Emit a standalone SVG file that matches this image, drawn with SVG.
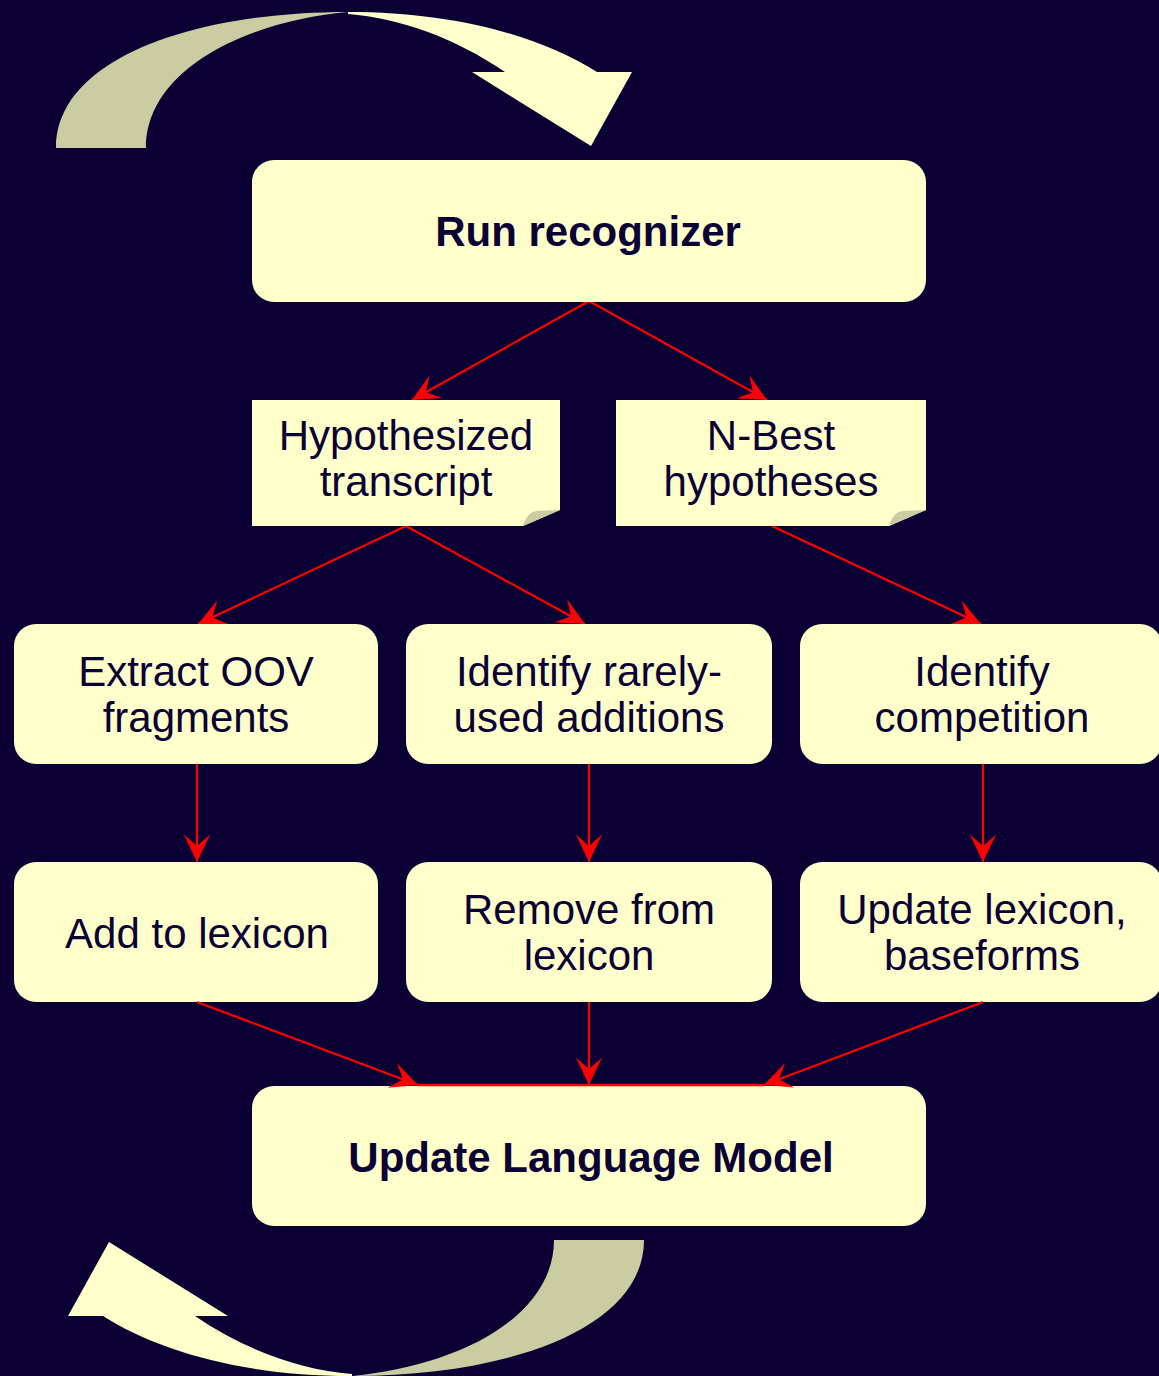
<svg xmlns="http://www.w3.org/2000/svg" width="1159" height="1376" viewBox="0 0 1159 1376">
  <style>
    .box { fill: #ffffcc; }
    .shade { fill: #cccca3; }
    .light { fill: #ffffcc; }
    .t { font-family: "Liberation Sans", Arial, sans-serif; font-size: 42px; fill: #0a0033; text-anchor: middle; }
    .b { font-weight: bold; }
    .edge { stroke: #ff0000; stroke-width: 2.2; fill: none; marker-end: url(#head); }
  </style>
  <defs>
    <marker id="head" markerUnits="userSpaceOnUse" markerWidth="32" markerHeight="32" viewBox="-26 -13 28 26" refX="0" refY="0" orient="auto">
      <path d="M0,0 L-24,-11.5 L-14,0 L-24,11.5 Z" fill="#ff0000"/>
    </marker>
    <!-- curved loop arrow -->
    <g id="loop">
      <path class="shade" d="M56,148 C56,60 190,12 348,12 C240,22 146,72 146,148 Z"/>
      <path class="light" d="M348,12 C455,12 540,36 597,72 L632,72 L591,146 L472,72 L505,72 C455,38 400,18 348,14 Z"/>
    </g>
  </defs>

  <rect width="1159" height="1376" fill="#0a0033"/>

  <use href="#loop"/>
  <use href="#loop" transform="rotate(180 350 694)"/>

  <g id="connectors">
    <line class="edge" x1="589" y1="301" x2="412" y2="400"/>
    <line class="edge" x1="589" y1="301" x2="767" y2="400"/>
    <line class="edge" x1="406" y1="526" x2="198" y2="624"/>
    <line class="edge" x1="406" y1="526" x2="585" y2="624"/>
    <line class="edge" x1="772" y1="526" x2="981" y2="624"/>
    <line class="edge" x1="197" y1="764" x2="197" y2="862"/>
    <line class="edge" x1="589" y1="764" x2="589" y2="862"/>
    <line class="edge" x1="983" y1="764" x2="983" y2="862"/>
  </g>

  <g id="run-recognizer">
    <rect class="box" x="252" y="160" width="674" height="142" rx="22"/>
    <text class="t b" x="588" y="246">Run recognizer</text>
  </g>

  <g id="hypothesized-transcript">
    <path class="box" d="M252,400 H560 V510 L523,526 H252 Z"/>
    <path class="shade" d="M523,526 Q527,512 537,511 L560,510 Z"/>
    <text class="t" x="406" y="450">Hypothesized</text>
    <text class="t" x="406" y="496">transcript</text>
  </g>

  <g id="n-best">
    <path class="box" d="M616,400 H926 V510 L889,526 H616 Z"/>
    <path class="shade" d="M889,526 Q893,512 903,511 L926,510 Z"/>
    <text class="t" x="771" y="450">N-Best</text>
    <text class="t" x="771" y="496">hypotheses</text>
  </g>

  <g id="extract-oov">
    <rect class="box" x="14" y="624" width="364" height="140" rx="22"/>
    <text class="t" x="196" y="686">Extract OOV</text>
    <text class="t" x="196" y="732">fragments</text>
  </g>

  <g id="identify-rarely">
    <rect class="box" x="406" y="624" width="366" height="140" rx="22"/>
    <text class="t" x="589" y="686">Identify rarely-</text>
    <text class="t" x="589" y="732">used additions</text>
  </g>

  <g id="identify-competition">
    <rect class="box" x="800" y="624" width="362" height="140" rx="22"/>
    <text class="t" x="982" y="686">Identify</text>
    <text class="t" x="982" y="732">competition</text>
  </g>

  <g id="add-to-lexicon">
    <rect class="box" x="14" y="862" width="364" height="140" rx="22"/>
    <text class="t" x="197" y="948">Add to lexicon</text>
  </g>

  <g id="remove-from-lexicon">
    <rect class="box" x="406" y="862" width="366" height="140" rx="22"/>
    <text class="t" x="589" y="924">Remove from</text>
    <text class="t" x="589" y="970">lexicon</text>
  </g>

  <g id="update-lexicon">
    <rect class="box" x="800" y="862" width="362" height="140" rx="22"/>
    <text class="t" x="982" y="924">Update lexicon,</text>
    <text class="t" x="982" y="970">baseforms</text>
  </g>

  <g id="update-language-model">
    <rect class="box" x="252" y="1086" width="674" height="140" rx="22"/>
    <text class="t b" x="591" y="1172" font-size="42.5">Update Language Model</text>
  </g>

  <g id="merge-connectors">
    <line x1="418" y1="1085" x2="764" y2="1085" stroke="#ff0000" stroke-width="2.5"/>
    <line class="edge" x1="197" y1="1002" x2="418" y2="1085"/>
    <line class="edge" x1="589" y1="1002" x2="589" y2="1085"/>
    <line class="edge" x1="983" y1="1002" x2="764" y2="1085"/>
  </g>
</svg>
